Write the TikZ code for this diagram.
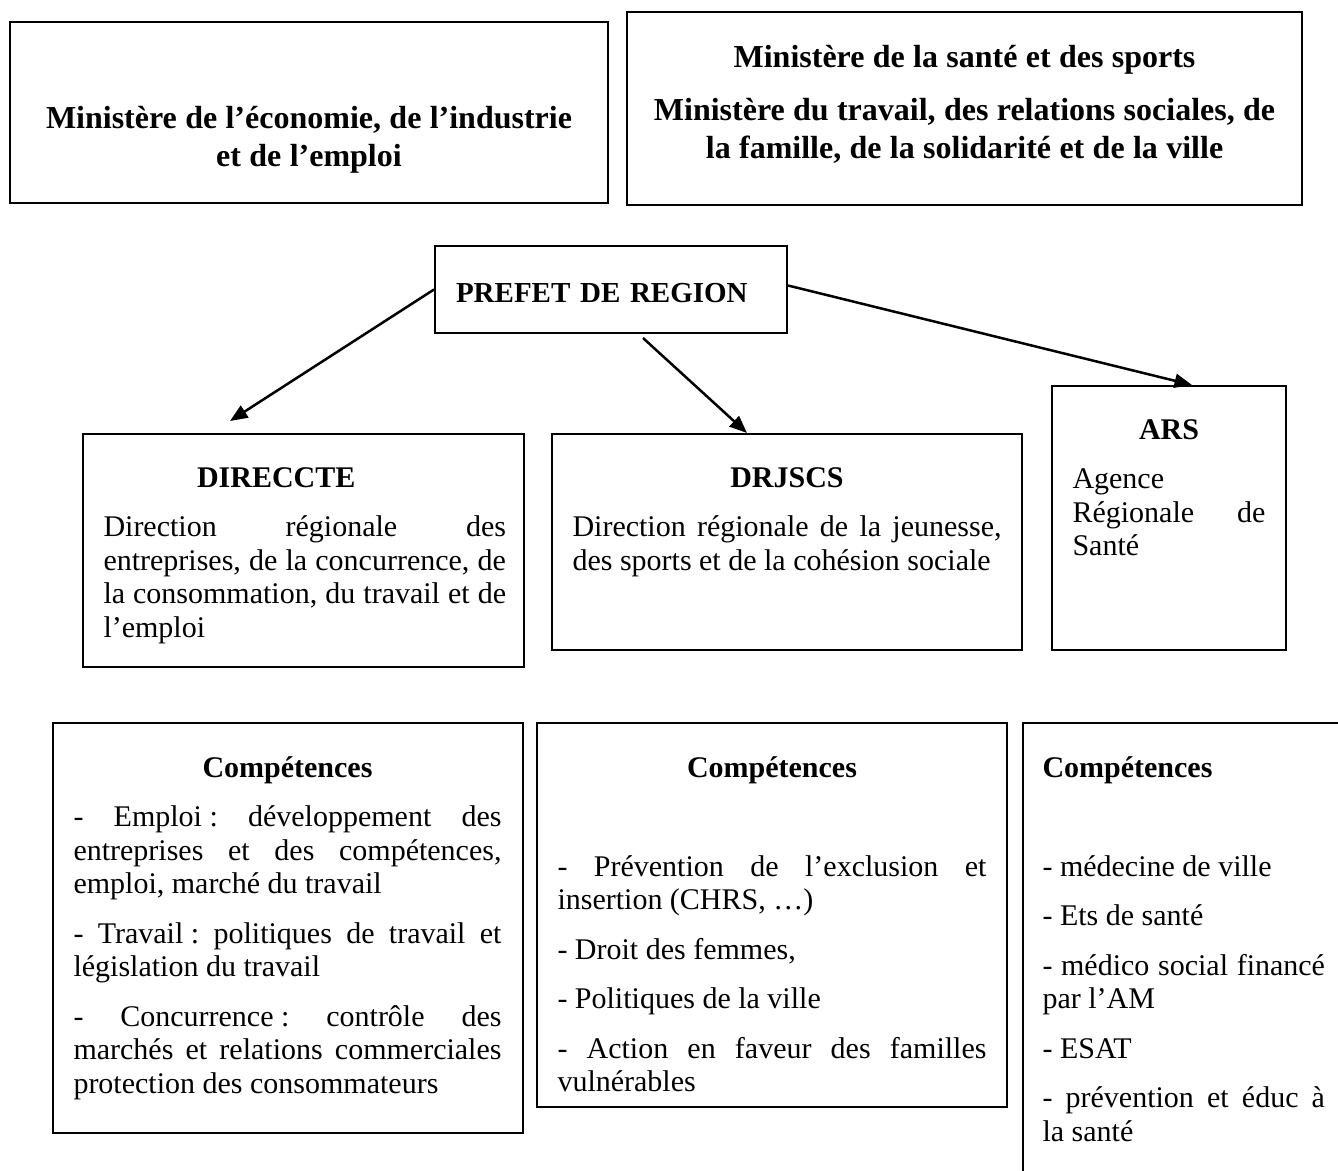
\documentclass[tikz,border=0pt]{standalone}
\usepackage{fontspec}
\setmainfont{Liberation Serif}
\usetikzlibrary{arrows.meta, fit, calc}
\newcommand{\titlefont}{\bfseries\fontsize{12.8}{15.5}\selectfont\setlength{\parskip}{5.7pt}}
\newcommand{\bodyfont}{\fontsize{12}{13.4}\selectfont\setlength{\parskip}{6.4pt}\hyphenpenalty=10000 \tolerance=10000 }

\begin{document}
\begin{tikzpicture}[x=0.4pt, y=-0.4pt,
    box/.style={draw, line width=0.8pt, inner sep=0pt},
    txt/.style={inner sep=0pt, anchor=north west, align=justify, execute at begin node=\bodyfont},
    ttl/.style={inner sep=0pt, anchor=north, align=center, execute at begin node=\titlefont},
    arr/.style={-{Triangle[length=7pt,width=5.6pt]}, line width=1pt}]
  \useasboundingbox (0,0) rectangle (1338,1171);
  \clip (0,0) rectangle (1338,1171);
  \node (min1) [box, fit={(10,22) (608,203)}] {};
  \node (min2) [box, fit={(627,12) (1302,205)}] {};
  \node (min1t) [ttl, text width=224pt] at ($(min1.north)+(0,79.5)$) {\strut Ministère de l’économie, de l’industrie\\et de l’emploi};
  \node (min2t) [ttl, text width=260pt] at ($(min2.north)+(0,28.5)$) {\strut Ministère de la santé et des sports\par
    Ministère du travail, des relations sociales, de\\la famille, de la solidarité et de la ville};

  \node (prefet) [box, minimum width=140.8pt, minimum height=34.8pt, text width=124pt, inner xsep=8.4pt, align=left,
    text height=10.2pt, text depth=0pt, font={\fontsize{11.6}{13.4}\selectfont\bfseries}] at (611,289.5) {PREFET DE REGION};

  \node (dir) [box, fit={(83,434) (524,667)}] {};
  \node (drj) [box, fit={(552,434) (1022,650)}] {};
  \node (ars) [box, fit={(1052,386) (1286,650)}] {};
  \node (dirt) [txt, text width=161pt] at ($(dir.north west)+(21,30.5)$) {{\centering\bfseries\hspace*{-22.8pt}\strut DIRECCTE\par}
    Direction régionale des\linebreak entreprises, de la concurrence, de\linebreak la consommation, du travail et de\linebreak l’emploi};
  \node (drjt) [txt, text width=171.6pt] at ($(drj.north west)+(21,30.5)$) {{\centering\bfseries\strut DRJSCS\par}
    Direction régionale de la jeunesse,\linebreak des sports et de la cohésion sociale};
  \node (arst) [txt, text width=77.2pt] at ($(ars.north west)+(21,30.5)$) {{\centering\bfseries\strut ARS\par}
    Agence\linebreak Régionale de\linebreak Santé};

  \draw [arr] (prefet.west) -- ($(dir.north)+(-73.5,-12)$);
  \draw [arr] ($(prefet.south)+(32,4)$) -- ($(drj.north)+(-40,0)$);
  \draw [arr] ($(prefet.east)+(0,-4)$) -- ($(ars.north)+(23,0)$);

  \node (c1) [box, fit={(53,723) (523,1133)}] {};
  \node (c2) [box, fit={(537,723) (1007,1107)}] {};
  \node (c3) [box, fit={(1023,723) (1370,1200)}] {};
  \node (c1t) [txt, text width=171.2pt] at ($(c1.north west)+(21,31.5)$) {{\centering\bfseries\strut Compétences\par}
    - \mbox{Emploi :} développement des\linebreak entreprises et des compétences,\linebreak emploi, marché du travail\par
    - \mbox{Travail :} politiques de travail et\linebreak législation du travail\par
    - \mbox{Concurrence :} contrôle des\linebreak marchés et relations commerciales\linebreak protection des consommateurs};
  \node (c2t) [txt, text width=171.6pt] at ($(c2.north west)+(21,31.5)$) {{\centering\bfseries\strut Compétences\par}
    \mbox{}\par
    - Prévention de l’exclusion et\linebreak insertion (CHRS, …)\par
    - Droit des femmes,\par
    - Politiques de la ville\par
    - Action en faveur des familles\linebreak vulnérables};
  \node (c3t) [txt, text width=113pt] at ($(c3.north west)+(20,31.5)$) {{\bfseries\strut Compétences\par}
    \mbox{}\par
    - médecine de ville\par
    - Ets de santé\par
    - médico social financé\linebreak par l’AM\par
    - ESAT\par
    - prévention et éduc à\linebreak la santé};
\end{tikzpicture}
\end{document}
